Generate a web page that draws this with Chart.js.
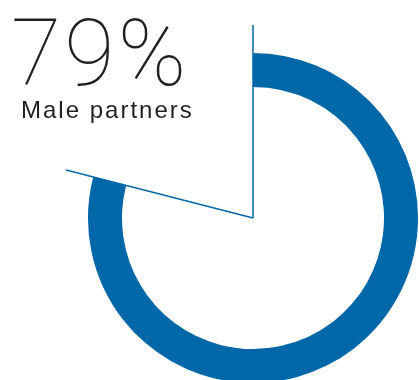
<!DOCTYPE html>
<html>
<head>
<meta charset="utf-8">
<script src="https://cdn.jsdelivr.net/npm/chart.js@4/dist/chart.umd.min.js"></script>
<style>
  html, body { margin: 0; padding: 0; background: #fff; }
  #wrap { position: relative; width: 419px; height: 380px; overflow: hidden; }
</style>
</head>
<body>
<div id="wrap"><canvas id="myChart" width="419" height="380"></canvas></div>
<script>
// share of partners, percent
var labels = ["Male partners", "Other"];
var shares = [79, 21];

var blue = "#0067a9";

// two radial rules along the edges of the first slice, plus the big figure
var sliceRules = {
  id: "sliceRules",
  afterDatasetsDraw: function(chart, args, opts) {
    var arc = chart.getDatasetMeta(0).data[0];
    var ctx = chart.ctx;
    ctx.save();
    ctx.strokeStyle = blue;
    ctx.lineWidth = 1.5;
    [arc.startAngle, arc.endAngle].forEach(function(a) {
      ctx.beginPath();
      ctx.moveTo(arc.x, arc.y);
      ctx.lineTo(arc.x + Math.cos(a) * opts.length, arc.y + Math.sin(a) * opts.length);
      ctx.stroke();
    });

    ctx.fillStyle = "#231f20";
    ctx.textBaseline = "alphabetic";
    ctx.textAlign = "left";
    ctx.font = "100 92px Roboto";
    ctx.letterSpacing = "3px";
    ctx.fillText(shares[0] + "%", 11, 85);
    ctx.font = "24px 'Liberation Sans'";
    ctx.letterSpacing = "2px";
    ctx.fillText(labels[0], 21, 118);
    ctx.restore();
  }
};

document.addEventListener("DOMContentLoaded", function() {
  new Chart(document.getElementById("myChart"), {
    type: "doughnut",
    data: {
      labels: labels,
      datasets: [{
        data: shares,
        backgroundColor: [blue, "rgba(0,0,0,0)"],
        borderWidth: 0,
        clip: false
      }]
    },
    options: {
      responsive: false,
      animation: false,
      radius: 165,
      cutout: "79.4%",
      layout: { padding: { left: 87, right: 0, top: 56, bottom: 0 } },
      plugins: {
        legend: { display: false },
        tooltip: { enabled: false },
        sliceRules: { length: 193 }
      }
    },
    plugins: [sliceRules]
  });
});
</script>
</body>
</html>
